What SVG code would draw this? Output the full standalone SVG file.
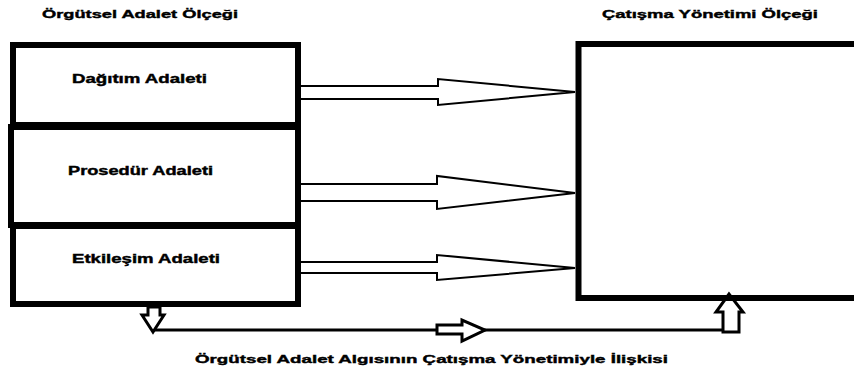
<svg xmlns="http://www.w3.org/2000/svg" width="854" height="374" viewBox="0 0 854 374">
<style>
  text { font-family: "Liberation Sans", Arial, sans-serif; font-weight: bold; fill: #000; stroke: #000; stroke-width: 0.4; }
  .t { font-size: 11.5px; }
  .l { font-size: 12px; }
  .box { fill: #fff; stroke: #000; stroke-width: 6; }
  .big { fill: #fff; stroke: #000; stroke-width: 2; stroke-linejoin: miter; }
  .small { fill: #fff; stroke: #000; stroke-width: 3; stroke-linejoin: miter; }
  .line { fill: none; stroke: #000; stroke-width: 3; }
</style>
<rect width="854" height="374" fill="#fff"/>

<g id="titles">
  <text class="t" x="42" y="18" textLength="196" lengthAdjust="spacingAndGlyphs">Örgütsel Adalet Ölçeği</text>
  <text class="t" x="602" y="18" textLength="216" lengthAdjust="spacingAndGlyphs">Çatışma Yönetimi Ölçeği</text>
  <text class="t" x="195" y="363" textLength="473" lengthAdjust="spacingAndGlyphs">Örgütsel Adalet Algısının Çatışma Yönetimiyle İlişkisi</text>
</g>

<g id="connectors">
  <polyline class="big" points="301,86 438,86 438,79 575,92 438,105 438,99 301,99"/>
  <polyline class="big" points="301,184 437,184 437,176 575,193 437,209 437,201 301,201"/>
  <polyline class="big" points="301,262 437,262 437,255 575,268 437,280 437,273 301,273"/>
  <path class="line" d="M153,330 H723"/>
  <polygon class="small" points="148,307 148,315 142,315 153,332 164,315 160,315 160,307"/>
  <polygon class="small" points="437,325 462,325 462,320 485,330 462,341 462,334 437,334"/>
  <polygon class="small" points="723,332 723,312 716,312 729,294 743,312 739,312 739,332"/>
</g>

<g id="node-dagitim">
  <rect class="box" x="13" y="45" width="285" height="80"/>
  <text class="l" x="72" y="83" textLength="135" lengthAdjust="spacingAndGlyphs">Dağıtım Adaleti</text>
</g>
<g id="node-prosedur">
  <rect class="box" x="11" y="127" width="287" height="98"/>
  <text class="l" x="68" y="175" textLength="145" lengthAdjust="spacingAndGlyphs">Prosedür Adaleti</text>
</g>
<g id="node-etkilesim">
  <rect class="box" x="13" y="226" width="285" height="78"/>
  <text class="l" x="72" y="263" textLength="148" lengthAdjust="spacingAndGlyphs">Etkileşim Adaleti</text>
</g>

<g id="node-catisma">
  <path d="M854,44 H578.5 V298 H854" fill="none" stroke="#000" stroke-width="6"/>
</g>
</svg>
